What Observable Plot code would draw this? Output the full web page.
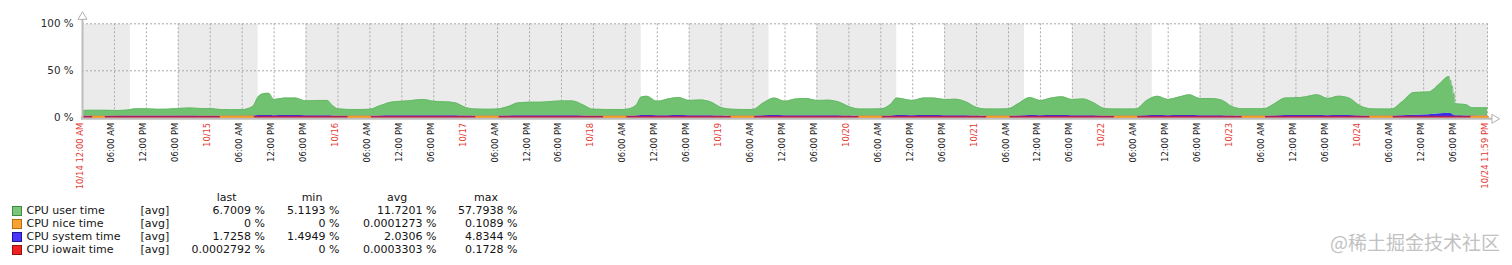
<!DOCTYPE html>
<html><head><meta charset="utf-8">
<script src="https://cdn.jsdelivr.net/npm/d3@7"></script>
<script src="https://cdn.jsdelivr.net/npm/@observablehq/plot@0.6"></script>
<style>
html,body{margin:0;padding:0;background:#fff;}
#wrap{position:relative;width:1512px;height:265px;overflow:hidden;font-family:"DejaVu Sans",sans-serif;}
#chart{position:absolute;left:0;top:0;}
#chart svg{overflow:visible;}
.lg{position:absolute;font-size:11px;line-height:13px;color:#141414;white-space:nowrap;}
.sq{position:absolute;width:8px;height:8px;border:1px solid;}
#wm{position:absolute;right:12px;top:229px;font-family:"Noto Sans CJK SC",sans-serif;font-size:19px;line-height:26px;color:#c2c2c2;white-space:nowrap;}
</style></head>
<body><div id="wrap"><div id="chart"></div><div id="legend"></div><div id="wm">@稀土掘金技术社区</div></div>
<script>
// ---- data (hours since 10/14 12:00 AM) ----
const hours = [
  0,2,4,6,8,10,12,14,16,18,20,22,
  24,26,28,30,32,33,34,35,36,38,40,42,44,46,47,
  48,50,52,54,56,58,60,62,64,66,68,70,
  72,74,76,78,80,82,84,86,88,90,92,94,
  96,98,100,102,104,105,106,108,110,112,114,116,118,
  120,122,124,126,128,130,132,134,136,138,140,142,
  144,146,148,150,152,153,156,158,160,162,164,166,
  168,170,172,174,176,178,180,182,184,186,188,190,
  192,194,196,198,200,202,204,206,208,210,212,214,
  216,218,220,222,224,226,228,230,232,234,236,238,
  240,242,244,246,248,250.2,253,255,256.8,257,257.1,257.3,257.4,257.6,257.7,257.9,260,261,262,264
];
const userTime = [
  6.0,6.2,6.2,6.2,6.2,7.7,7.7,7.2,7.4,8.0,8.7,8.3,
  8.1,7.0,6.9,7.0,10.2,19.6,23.0,23.5,17.2,18.6,18.6,15.7,16.2,16.2,11.0,
  7.8,7.2,7.2,7.4,11.1,14.4,15.3,16.2,17.2,15.3,14.8,13.9,
  9.2,7.6,7.4,7.6,10.2,13.9,14.5,14.5,15.2,15.8,15.8,12.0,
  7.3,7.2,7.2,7.2,11.1,19.6,20.6,15.3,17.7,19.2,16.2,16.7,14.8,
  9.2,7.4,7.2,7.2,13.9,18.6,15.3,17.7,18.2,16.2,16.5,14.8,
  10.2,7.6,7.6,7.8,13.0,18.6,16.1,18.6,18.6,17.2,17.5,14.8,
  9.2,7.6,7.6,7.9,13.5,19.2,16.1,18.6,20.1,17.2,17.7,13.9,
  8.3,7.6,7.6,7.7,16.1,20.6,17.2,19.6,22.0,18.2,18.2,16.7,
  10.2,7.9,7.9,8.0,13.0,18.6,18.9,20.1,22.0,18.3,20.6,18.6,
  11.1,7.9,7.6,7.6,14.8,24.2,24.3,31.8,39.2,33.5,35.5,28.0,30.0,21.0,23.0,12.8,12.0,9.0,8.8,8.8
];
const systemTime = [
  1.8,1.6,1.6,1.6,1.8,1.8,1.8,1.8,1.8,1.8,1.8,1.7,
  1.7,1.6,1.6,1.6,1.8,2.4,2.5,2.5,2.3,2.4,2.4,2.3,2.3,2.3,2.0,
  1.7,1.6,1.6,1.6,1.9,2.2,2.2,2.3,2.3,2.2,2.2,2.1,
  1.8,1.6,1.6,1.6,1.8,2.1,2.1,2.1,2.2,2.2,2.2,2.0,
  1.7,1.6,1.6,1.6,1.9,2.4,2.4,2.2,2.3,2.4,2.3,2.3,2.2,
  1.8,1.6,1.6,1.6,2.1,2.4,2.2,2.3,2.3,2.3,2.3,2.2,
  1.8,1.6,1.6,1.6,2.0,2.4,2.3,2.4,2.4,2.3,2.3,2.2,
  1.8,1.6,1.6,1.6,2.0,2.4,2.3,2.4,2.4,2.3,2.3,2.1,
  1.7,1.6,1.6,1.6,2.3,2.4,2.3,2.4,2.5,2.3,2.3,2.3,
  1.8,1.6,1.6,1.6,2.0,2.4,2.4,2.4,2.5,2.3,2.4,2.4,
  1.9,1.6,1.6,1.6,2.2,2.8,3.2,4.2,4.8,4.5,4.5,4.0,4.0,3.0,3.0,2.2,2.0,1.8,1.7,1.7
];
const niceTime = [
  0,0.1,0.1,0,0,0,0,0,0,0,0,0,
  0,0.1,0.1,0.1,0.1,0,0,0,0,0,0,0,0,0,0,
  0,0.1,0.1,0.1,0,0,0,0,0,0,0,0,
  0,0.1,0.1,0.1,0,0,0,0,0,0,0,0,
  0,0.1,0.1,0.1,0,0,0,0,0,0,0,0,0,
  0,0.1,0.1,0.1,0,0,0,0,0,0,0,0,
  0,0.1,0.1,0.1,0,0,0,0,0,0,0,0,
  0,0.1,0.1,0.1,0,0,0,0,0,0,0,0,
  0,0.1,0.1,0.1,0,0,0,0,0,0,0,0,
  0,0.1,0.1,0.1,0,0,0,0,0,0,0,0,
  0,0.1,0.1,0.1,0,0,0,0,0,0,0,0,0,0,0,0,0,0.1,0.1,0.1
];
const iowaitTime = [
  0,0,0,0,0,0,0,0,0,0,0,0,
  0,0,0,0,0,0,0,0,0,0,0,0,0,0,0,
  0,0,0,0,0,0,0,0,0,0,0,0,
  0,0,0,0,0,0,0,0,0,0,0,0,
  0,0,0,0,0,0,0,0,0,0,0,0,0,
  0,0,0,0,0,0,0,0,0,0,0,0,
  0,0,0,0,0,0,0,0,0,0,0,0,
  0,0,0,0,0,0,0,0,0,0,0,0,
  0,0,0,0,0,0,0,0,0,0,0,0,
  0,0,0,0,0,0,0,0,0,0,0,0,
  0,0,0,0,0,0,0,0,0,0,0,0,0,0,0,0,0,0,0,0
];
const dayLabels = ["10/14","10/15","10/16","10/17","10/18","10/19","10/20","10/21","10/22","10/23","10/24"];
const hourLabels = ["12:00 AM","06:00 AM","12:00 PM","06:00 PM"];
const startLabel = "10/14 12:00 AM";
const endLabel = "10/24 11:59 PM";
const workDays = ["10/14","10/15","10/18","10/19","10/20","10/21","10/22"];
const workHours = [9, 18];
const yTicks = [0, 50, 100];

const legendNames = ["CPU user time","CPU nice time","CPU system time","CPU iowait time"];
const legendFunc = ["[avg]","[avg]","[avg]","[avg]"];
const statLast = ["6.7009 %","0 %","1.7258 %","0.0002792 %"];
const statMin = ["5.1193 %","0 %","1.4949 %","0 %"];
const statAvg = ["11.7201 %","0.0001273 %","2.0306 %","0.0003303 %"];
const statMax = ["57.7938 %","0.1089 %","4.8344 %","0.1728 %"];
const statHeaders = ["last","min","avg","max"];

// ---- colors ----
const cUser = "#70c271", cNice = "#f49a25", cSys = "#3a2cf0", cIo = "#d81c1c";
const legendFill = ["#7cc67c","#f7a234","#4a35ff","#f02020"];
const legendBorder = ["#3e8a3e","#b86d0c","#1e158f","#961010"];
const red = "#e33a36", ink = "#1a1a1a";

const rows = hours.map((h, i) => ({h, user: userTime[i], sys: systemTime[i], nice: niceTime[i], io: iowaitTime[i]}));
const totalDays = dayLabels.length;
const work = workDays.map(d => ({x1: dayLabels.indexOf(d) * 24 + workHours[0], x2: dayLabels.indexOf(d) * 24 + workHours[1]}));
const nTicks = totalDays * 4;
const ticks = d3.range(0, nTicks + 1).map(i => {
  const h = i * 6;
  if (i === 0) return {h, label: startLabel, color: red};
  if (i === nTicks) return {h, label: endLabel, color: red};
  if (i % 4 === 0) return {h, label: dayLabels[i / 4], color: red};
  return {h, label: hourLabels[i % 4], color: ink};
});

const grid = "#a9a9a9", axisC = "#bdbdbd";
const crv = "monotone-x";
const plot = Plot.plot({
  width: 1512, height: 190,
  marginLeft: 82, marginRight: 25, marginTop: 23.3, marginBottom: 72.7,
  x: {domain: [0, totalDays * 24], axis: null},
  y: {domain: [0, 100], axis: null},
  style: {background: "transparent", fontFamily: "DejaVu Sans, sans-serif"},
  marks: [
    Plot.frame({fill: "#ebebeb", stroke: null}),
    Plot.rect(work, {x1: "x1", x2: "x2", y1: () => 0, y2: () => 100, fill: "white"}),
    Plot.ruleX(ticks, {x: "h", stroke: grid, strokeDasharray: "2,2", strokeWidth: 1}),
    Plot.ruleY(yTicks.filter(v => v > 0), {y: d => d, stroke: grid, strokeDasharray: "2,2", strokeWidth: 1}),
    Plot.area(rows, {x1: "h", y1: d => d.io, y2: d => d.io + d.sys, fill: cSys, curve: crv}),
    Plot.area(rows, {x1: "h", y1: d => d.io + d.sys + d.nice, y2: d => d.io + d.sys + d.nice + d.user, fill: cUser, curve: crv}),
    Plot.line(rows, {x: "h", y: d => d.io + d.sys + d.nice + d.user, stroke: "#64b865", strokeWidth: 0.8, curve: crv}),
    Plot.line(rows, {x: "h", y: d => d.io, stroke: cIo, strokeWidth: 2.4, strokeOpacity: 0.7, dy: -0.8}),
    Plot.line(rows, {x: "h", y: d => d.nice > 0 ? d.io + d.nice : NaN, stroke: cNice, strokeWidth: 2.4, dy: -0.8}),
    Plot.ruleX([0], {x: d => d, stroke: axisC, strokeWidth: 2, insetTop: -9, insetBottom: -1.5}),
    Plot.ruleY([0], {y: d => d, stroke: axisC, strokeWidth: 2, dy: 1, insetRight: -5, insetLeft: -1}),
    Plot.dot([0], {frameAnchor: "top-left", dy: -7, symbol: "triangle", r: 3.3, fill: "white", stroke: "#b0b0b0", strokeWidth: 1}),
    Plot.dot([0], {frameAnchor: "bottom-right", dx: 7, dy: 1, symbol: "triangle", rotate: 90, r: 3.3, fill: "white", stroke: "#b0b0b0", strokeWidth: 1}),
    Plot.text(yTicks, {y: d => d, text: d => `${d} %`, frameAnchor: "left", textAnchor: "end", dx: -9, fontSize: 10.3, fill: "#2a2a2a"}),
    Plot.text(ticks, {x: "h", text: "label", fill: "color", frameAnchor: "bottom", rotate: -90, textAnchor: "end", dy: 5, fontSize: 8.4})
  ]
});
document.getElementById("chart").append(plot);

// ---- legend ----
const L = document.getElementById("legend");
function add(html, style, cls = "lg") {
  const d = document.createElement("div");
  d.className = cls; d.textContent = html;
  Object.assign(d.style, style);
  L.append(d);
  return d;
}
const headerY = 197.3, rowY0 = 210.2, rowStep = 13.1;
const headCenters = [226.6, 312, 397.2, 486];
const colRights = [265, 339.5, 436.5, 517.5];
statHeaders.forEach((t, j) => {
  add(t, {left: (headCenters[j] - 40) + "px", width: "80px", textAlign: "center", top: (headerY - 6.5) + "px"});
});
legendNames.forEach((name, i) => {
  const cy = rowY0 + i * rowStep;
  add("", {left: "12px", top: (cy - 4.5) + "px", background: legendFill[i], borderColor: legendBorder[i]}, "sq");
  add(name, {left: "26.5px", top: (cy - 6.5) + "px"});
  add(legendFunc[i], {left: "140.5px", top: (cy - 6.5) + "px"});
  [statLast, statMin, statAvg, statMax].forEach((arr, j) => {
    add(arr[i], {right: (1512 - colRights[j]) + "px", top: (cy - 6.5) + "px", textAlign: "right"});
  });
});
</script>
</body></html>
